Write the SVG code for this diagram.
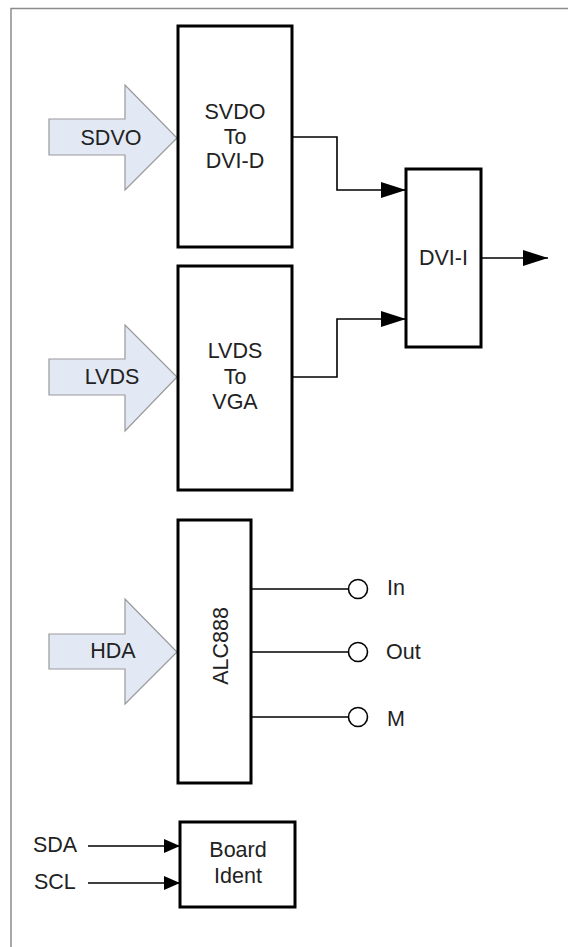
<svg xmlns="http://www.w3.org/2000/svg" width="568" height="947" viewBox="0 0 568 947">
<defs>
<style>
.frame{stroke:#8c8c8c;stroke-width:1.5;fill:none}
.box{fill:#fff;stroke:#000;stroke-width:3}
.fat{fill:#e2e9f5;stroke:#999;stroke-width:1.2}
.wire{fill:none;stroke:#000;stroke-width:1.6}
.term{fill:#fff;stroke:#000;stroke-width:1.6}
text{font-family:"Liberation Sans",Arial,sans-serif;font-size:21.5px;fill:#222}
.c{text-anchor:middle}
</style>
<marker id="ah" markerWidth="25" markerHeight="16" refX="25" refY="8" orient="auto" markerUnits="userSpaceOnUse">
<path d="M0,0 L25,8 L0,16 Z" fill="#000"/>
</marker>
<marker id="ahs" markerWidth="16" markerHeight="14" refX="16" refY="7" orient="auto" markerUnits="userSpaceOnUse">
<path d="M0,0 L16,7 L0,14 Z" fill="#000"/>
</marker>
</defs>
<rect width="568" height="947" fill="#fff"/>
<path class="frame" d="M11,947 V8.5 H568"/>

<g id="sdvo-in">
<polygon class="fat" points="49,119 125,119 125,85 177,138 125,190 125,155 49,155"/>
<text class="c" x="111" y="145">SDVO</text>
</g>
<g id="lvds-in">
<polygon class="fat" points="49,359 125,359 125,325 177,377 125,431 125,395 49,395"/>
<text class="c" x="112" y="384">LVDS</text>
</g>
<g id="hda-in">
<polygon class="fat" points="49,634 125,634 125,599 177,652 125,704 125,669 49,669"/>
<text class="c" x="113" y="658">HDA</text>
</g>

<g id="connectors">
<path class="wire" d="M292,137 H337 V190 H406" marker-end="url(#ah)"/>
<path class="wire" d="M292,377 H337 V319 H406" marker-end="url(#ah)"/>
<path class="wire" d="M481,258 H548" marker-end="url(#ah)"/>
<path class="wire" d="M251,589 H349"/>
<path class="wire" d="M251,652 H349"/>
<path class="wire" d="M251,717 H349"/>
<path class="wire" d="M88,846 H180" marker-end="url(#ahs)"/>
<path class="wire" d="M88,883 H180" marker-end="url(#ahs)"/>
</g>

<g id="sdvo-dvid">
<rect class="box" x="178" y="26" width="114" height="221"/>
<text class="c" x="235" y="119">SVDO</text>
<text class="c" x="235" y="144">To</text>
<text class="c" x="235" y="168">DVI-D</text>
</g>
<g id="lvds-vga">
<rect class="box" x="178" y="266" width="114" height="224"/>
<text class="c" x="235" y="358">LVDS</text>
<text class="c" x="235" y="384">To</text>
<text class="c" x="235" y="409">VGA</text>
</g>
<g id="dvi-i">
<rect class="box" x="406" y="169" width="75" height="178"/>
<text class="c" x="443.5" y="265">DVI-I</text>
</g>
<g id="alc888">
<rect class="box" x="178" y="520" width="73" height="263"/>
<text class="c" transform="translate(228,646) rotate(-90)">ALC888</text>
</g>
<g id="term-in">
<circle class="term" cx="358" cy="589" r="9.5"/>
<text x="387" y="595">In</text>
</g>
<g id="term-out">
<circle class="term" cx="358" cy="652" r="9.5"/>
<text x="386" y="659">Out</text>
</g>
<g id="term-m">
<circle class="term" cx="358" cy="717" r="9.5"/>
<text x="387" y="726">M</text>
</g>
<g id="board-ident">
<rect class="box" x="180" y="822" width="115" height="85"/>
<text class="c" x="238" y="857">Board</text>
<text class="c" x="238" y="883">Ident</text>
</g>
<g id="sda-label"><text x="33" y="852">SDA</text></g>
<g id="scl-label"><text x="34" y="889">SCL</text></g>
</svg>
